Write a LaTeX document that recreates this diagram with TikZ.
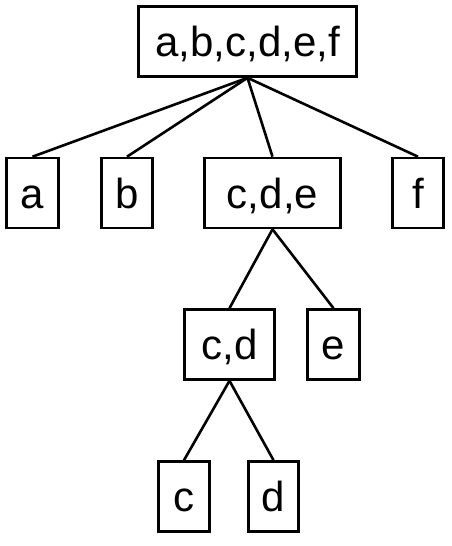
\documentclass[tikz,border=0pt]{standalone}
\usepackage{fontspec}
\setmainfont{Liberation Sans}
\begin{document}
\begin{tikzpicture}[x=1pt,y=-1pt,
  box/.style={draw, line width=2.6pt, inner sep=0pt, minimum height=70pt,
    font=\fontsize{42}{48}\selectfont, text height=30pt, text depth=0pt},
  edge/.style={line width=2.6pt}]
\useasboundingbox (0,0) rectangle (451,546);
\node[box, minimum width=218pt, minimum height=70pt] (root) at (247.5,41.5) {a,b,c,d,e,f};
\node[box, minimum width=52pt] (a) at (32.5,193) {a};
\node[box, minimum width=51pt] (b) at (127,193) {b};
\node[box, minimum width=136pt] (cde) at (272.5,193) {c,d,e};
\node[box, minimum width=51pt] (f) at (418,193) {f};
\node[box, minimum width=90pt] (cd) at (229.5,344.5) {c,d};
\node[box, minimum width=52pt] (e) at (333.5,344.5) {e};
\node[box, minimum width=51pt] (c) at (184,496.5) {c};
\node[box, minimum width=50pt] (d) at (273.5,496.5) {d};
\draw[edge] (root.south) -- (a.north);
\draw[edge] (root.south) -- (b.north);
\draw[edge] (root.south) -- (cde.north);
\draw[edge] (root.south) -- (f.north);
\draw[edge] (cde.south) -- (cd.north);
\draw[edge] (cde.south) -- (e.north);
\draw[edge] (cd.south) -- (c.north);
\draw[edge] (cd.south) -- (d.north);
\end{tikzpicture}
\end{document}
